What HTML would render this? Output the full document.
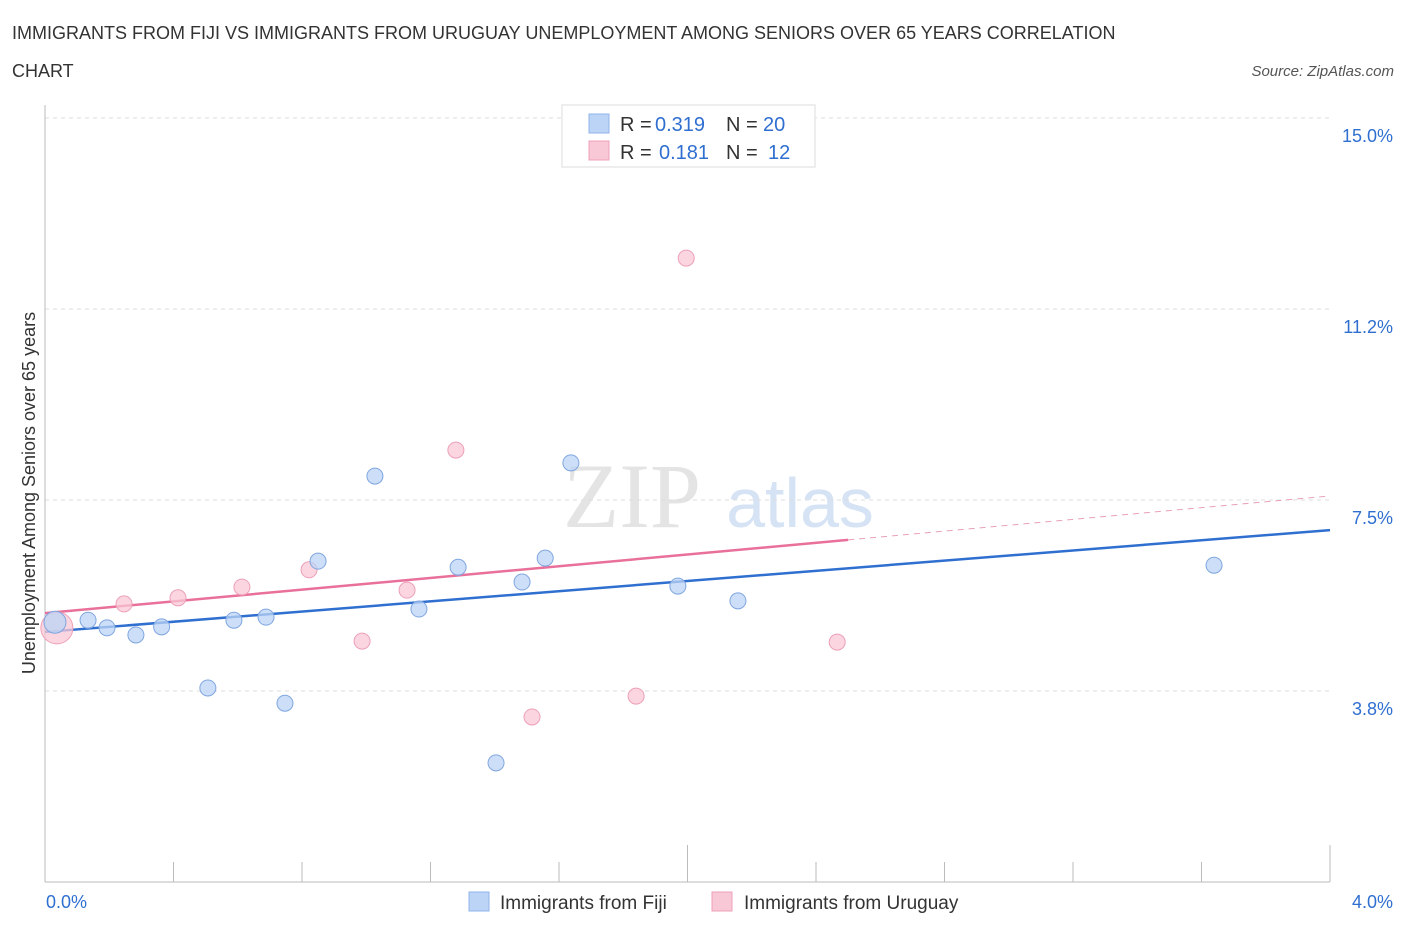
<!DOCTYPE html>
<html><head><meta charset="utf-8"><style>
body{margin:0;background:#fff;font-family:"Liberation Sans",sans-serif;}
svg{display:block}
</style></head><body>
<svg id="c" width="1406" height="930" xmlns="http://www.w3.org/2000/svg">
<text x="12" y="39" font-size="18" fill="#333">IMMIGRANTS FROM FIJI VS IMMIGRANTS FROM URUGUAY UNEMPLOYMENT AMONG SENIORS OVER 65 YEARS CORRELATION</text>
<text x="12" y="77" font-size="18" fill="#333">CHART</text>
<text x="1394" y="76" font-size="15" fill="#555" font-style="italic" text-anchor="end">Source: ZipAtlas.com</text>
<g>
<text x="632" y="527" font-size="92" fill="#e4e4e4" text-anchor="middle" font-family="Liberation Serif,serif">ZIP</text>
<text x="800" y="527" font-size="70" fill="#d5e3f5" text-anchor="middle">atlas</text>
</g>
<g id="grid"></g><g id="axes"></g><g id="trend"></g><g id="pts"></g>
<text x="35" y="493" font-size="18" fill="#333" text-anchor="middle" transform="rotate(-90 35 493)">Unemployment Among Seniors over 65 years</text>
<g>
<rect x="562" y="105" width="253" height="62" fill="#fff" stroke="#ddd"/>
<rect x="589" y="114" width="20" height="19" fill="#bcd4f6" stroke="#8fb3e8"/>
<rect x="589" y="141" width="20" height="19" fill="#f9c8d6" stroke="#eda0b8"/>
<text x="620" y="131" font-size="20" fill="#333">R = <tspan fill="#2f6fd0" x="655">0.319</tspan><tspan x="726">N = </tspan><tspan fill="#2f6fd0" x="763">20</tspan></text>
<text x="620" y="159" font-size="20" fill="#333">R = <tspan fill="#2f6fd0" x="659">0.181</tspan><tspan x="726">N = </tspan><tspan fill="#2f6fd0" x="768">12</tspan></text>
</g>
<g>
<rect x="469" y="892" width="20" height="19" fill="#bcd4f6" stroke="#8fb3e8"/>
<text x="500" y="909" font-size="19" fill="#333">Immigrants from Fiji</text>
<rect x="712" y="892" width="20" height="19" fill="#f9c8d6" stroke="#eda0b8"/>
<text x="744" y="909" font-size="19" fill="#333">Immigrants from Uruguay</text>
</g>
</svg>
<script>
const yTicks=[3.75,7.5,11.25,15];
const yTickLabels=["3.8%","7.5%","11.2%","15.0%"];
const xTickLabels=["0.0%","4.0%"];
const fijiX=[0.031,0.134,0.193,0.283,0.363,0.507,0.588,0.688,0.747,0.850,1.027,1.164,1.286,1.404,1.485,1.557,1.637,1.970,2.157,3.639];
const fijiY=[5.10,5.14,4.99,4.85,5.01,3.81,5.14,5.20,3.51,6.30,7.97,5.36,6.18,2.34,5.89,6.36,8.23,5.81,5.52,6.22];
const uruX=[0.037,0.246,0.414,0.613,0.822,0.987,1.127,1.279,1.516,1.840,1.996,2.466];
const uruY=[4.99,5.46,5.58,5.79,6.13,4.73,5.73,8.48,3.24,3.65,12.25,4.71];
const fijiTrend=[4.91,6.91];
const uruTrend=[5.28,7.58];
const uruSolidEnd=2.5;
const NS="http://www.w3.org/2000/svg";
const X=v=>45+v/4*1285, Y=v=>882-v*50.93;
function mk(p,t,a){const e=document.createElementNS(NS,t);for(const k in a)e.setAttribute(k,a[k]);document.getElementById(p).appendChild(e);return e;}
yTicks.forEach((t,i)=>{
 const l=mk('grid','line',{x1:45,x2:1330,y1:Y(t),y2:Y(t),stroke:'#ddd','stroke-dasharray':'4,4'});
 
 
 const tx=mk('grid','text',{x:1393,y:Y(t)+24,'font-size':18,fill:'#2f6fd0','text-anchor':'end'});
 tx.textContent=yTickLabels[i];
 
 
});
const topLine=mk('grid','line',{x1:45,x2:1330,y1:118,y2:118,stroke:'#ddd','stroke-dasharray':'4,4'});


const ya=mk('axes','line',{x1:45,x2:45,y1:105,y2:882,stroke:'#bbb'});


const xa=mk('axes','line',{x1:45,x2:1330,y1:882,y2:882,stroke:'#bbb'});


for(let i=0;i<=10;i++){const v=i*0.4;
 const t=mk('axes','line',{x1:X(v),x2:X(v),y1:(i==5||i==10)?845:862,y2:882,stroke:'#bbb'});
 
 }
[[0,'start',46],[4,'end',1393]].forEach((d,i)=>{
 const t=mk('axes','text',{x:d[2],y:908,'font-size':18,fill:'#2f6fd0','text-anchor':d[1]});
 t.textContent=xTickLabels[i];
 
 });
const bl=mk('trend','line',{x1:X(0),y1:Y(fijiTrend[0]),x2:X(4),y2:Y(fijiTrend[1]),stroke:'#2f6fd0','stroke-width':2.5});


const ue=uruTrend[0]+(uruTrend[1]-uruTrend[0])*uruSolidEnd/4;
const pl=mk('trend','line',{x1:X(0),y1:Y(uruTrend[0]),x2:X(uruSolidEnd),y2:Y(ue),stroke:'#e8709a','stroke-width':2.5});


const pd=mk('trend','line',{x1:X(uruSolidEnd),y1:Y(ue),x2:X(4),y2:Y(uruTrend[1]),stroke:'#e8a0b8','stroke-width':1,'stroke-dasharray':'6,5'});


uruX.forEach((x,i)=>{const c=mk('pts','circle',{cx:X(x),cy:Y(uruY[i]),r:i==0?16:8,fill:'#f9c8d6','fill-opacity':0.75,stroke:'#eda0b8'});
 
 });
fijiX.forEach((x,i)=>{const c=mk('pts','circle',{cx:X(x),cy:Y(fijiY[i]),r:i==0?11:8,fill:'#bcd4f6','fill-opacity':0.75,stroke:'#7fa6e0'});
 
 });
</script>
</body></html>
